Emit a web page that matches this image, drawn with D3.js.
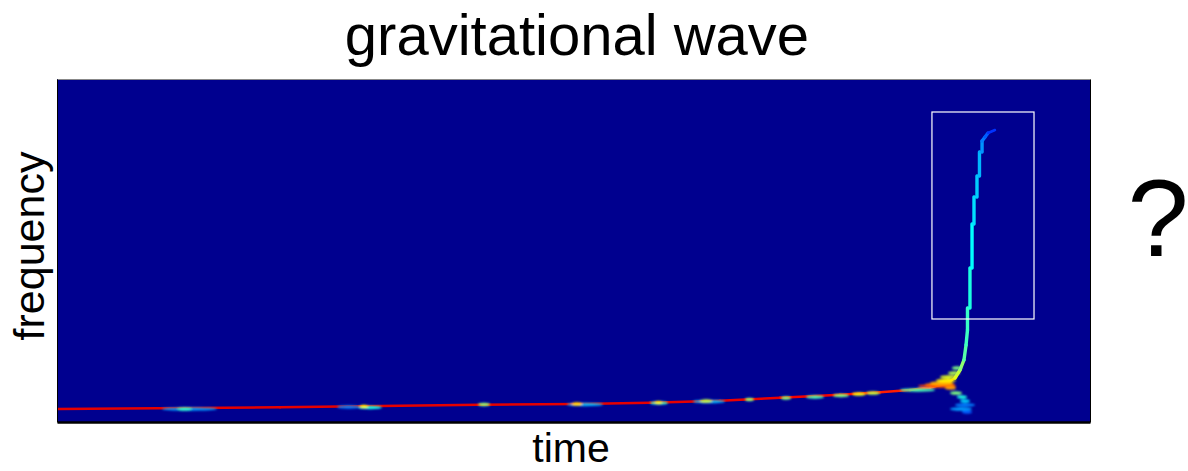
<!DOCTYPE html>
<html>
<head>
<meta charset="utf-8">
<script src="https://cdn.jsdelivr.net/npm/d3@7"></script>
<style>
  body { margin: 0; background: #fff; }
  text { font-family: "Liberation Sans", Arial, sans-serif; fill: #000; }
</style>
</head>
<body>
<div id="chart"></div>
<script>
// ridge of the chirp (time, frequency, power) - arbitrary units 0..100
var ridgeTime  = [0, 21.59, 40.95, 50.63, 57.41, 64.18, 69.99, 75.80, 79.67, 82.57, 84.51, 85.96, 86.93, 87.42, 87.80, 88.00, 88.14,
                  88.14, 88.38, 88.38, 88.58, 88.58, 88.77, 88.77, 89.06, 89.06, 89.30, 89.30, 89.55, 89.55, 89.84, 90.13, 90.80];
var ridgeFreq  = [3.79, 4.29, 5.04, 5.25, 5.63, 6.21, 7.08, 7.96, 8.66, 9.33, 10.06, 11.08, 12.83, 15.16, 18.08, 22.45, 26.82,
                  33.24, 33.24, 44.90, 44.90, 57.73, 57.73, 65.60, 65.60, 71.72, 71.72, 78.72, 78.72, 81.92, 83.09, 84.26, 85.13];
var ridgePower = [0.9, 0.9, 0.9, 0.9, 0.9, 0.9, 0.89, 0.88, 0.86, 0.84, 0.8, 0.75, 0.64, 0.55, 0.48, 0.44, 0.43,
                  0.43, 0.41, 0.40, 0.38, 0.37, 0.35, 0.34, 0.33, 0.32, 0.31, 0.30, 0.28, 0.26, 0.23, 0.2, 0.15];

// bright patches beside the ridge: time span, frequency, power
var spotT0 = [10.16, 11.62, 27.11, 29.14, 29.33, 40.76, 49.37, 49.85, 57.41, 57.89, 61.57, 62.25, 66.60, 70.09, 72.51, 75.12, 76.96, 78.32,
              81.61, 83.35, 84.03, 84.51, 85.09, 85.48, 85.96, 86.26, 86.64, 86.45, 87.12, 87.42, 86.93, 86.45, 87.61];
var spotT1 = [15.49, 13.07, 29.33, 31.46, 30.11, 41.92, 52.86, 50.82, 59.15, 58.57, 64.67, 63.41, 67.47, 71.06, 74.25, 76.67, 78.32, 79.67,
              85.00, 87.03, 86.93, 86.74, 87.03, 87.12, 87.03, 87.42, 87.61, 87.61, 88.09, 88.38, 88.87, 88.58, 88.58];
var spotF  = [3.79, 3.79, 4.37, 4.23, 4.52, 5.10, 5.10, 5.25, 5.54, 5.69, 5.98, 6.12, 6.56, 7.00, 7.29, 7.73, 8.16, 8.45,
              9.33, 10.50, 10.93, 11.37, 12.10, 13.12, 9.91, 14.29, 15.74, 8.45, 7.29, 6.12, 4.96, 3.79, 2.92];
var spotP  = [0.28, 0.42, 0.25, 0.40, 0.60, 0.50, 0.30, 0.65, 0.42, 0.60, 0.30, 0.55, 0.50, 0.50, 0.45, 0.50, 0.60, 0.55,
              0.45, 0.80, 0.76, 0.70, 0.64, 0.60, 0.72, 0.55, 0.50, 0.50, 0.40, 0.33, 0.25, 0.28, 0.22];

// highlighted region
var boxTime = [84.70, 94.58];
var boxFreq = [30.03, 90.38];

var W = 1188, H = 471;
var margin = {top: 79, right: 98, bottom: 49, left: 57},
  width = W - margin.left - margin.right,
  height = H - margin.top - margin.bottom;

var jet = d3.scaleLinear()
  .domain([0, 0.125, 0.375, 0.625, 0.875, 1])
  .range(["#000080", "#0000ff", "#00ffff", "#ffff00", "#ff0000", "#800000"])
  .clamp(true);

var svg = d3.select("#chart")
  .append("svg")
    .attr("width", W)
    .attr("height", H);

var defs = svg.append("defs");
defs.append("clipPath").attr("id", "plotclip")
  .append("rect").attr("width", width).attr("height", height);
defs.append("filter").attr("id", "soft").attr("x", "-20%").attr("y", "-50%").attr("width", "140%").attr("height", "200%")
  .append("feGaussianBlur").attr("stdDeviation", 0.6);
defs.append("filter").attr("id", "softer").attr("x", "-20%").attr("y", "-100%").attr("width", "140%").attr("height", "300%")
  .append("feGaussianBlur").attr("stdDeviation", 1.1);

var g = svg.append("g")
  .attr("transform", "translate(" + margin.left + "," + margin.top + ")");

var x = d3.scaleLinear().domain([0, 100]).range([0, width]);
var y = d3.scaleLinear().domain([0, 100]).range([height, 0]);

// background = zero power
g.append("rect")
  .attr("width", width)
  .attr("height", height)
  .style("fill", jet(0.015));

var plot = g.append("g").attr("clip-path", "url(#plotclip)");

// patches
var spots = d3.range(spotT0.length).map(function(i) {
  return {t0: spotT0[i], t1: spotT1[i], f: spotF[i], p: spotP[i]};
});

// ridge segments
var segs = d3.range(ridgeTime.length - 1).map(function(i) {
  return {
    x0: x(ridgeTime[i]), y0: y(ridgeFreq[i]),
    x1: x(ridgeTime[i + 1]), y1: y(ridgeFreq[i + 1]),
    p: (ridgePower[i] + ridgePower[i + 1]) / 2
  };
});

plot.append("g")
  .attr("filter", "url(#soft)")
  .selectAll("line")
  .data(segs)
  .enter()
  .append("line")
    .attr("x1", function(d) { return d.x0; })
    .attr("y1", function(d) { return d.y0; })
    .attr("x2", function(d) { return d.x1; })
    .attr("y2", function(d) { return d.y1; })
    .style("stroke", function(d) { return jet(d.p); })
    .style("stroke-width", function(d) { return Math.abs(d.y1 - d.y0) > Math.abs(d.x1 - d.x0) ? 3.4 : 2.5; })
    .style("stroke-linecap", "round");

plot.append("g")
  .attr("filter", "url(#softer)")
  .selectAll("ellipse")
  .data(spots)
  .enter()
  .append("ellipse")
    .attr("cx", function(d) { return (x(d.t0) + x(d.t1)) / 2; })
    .attr("cy", function(d) { return y(d.f); })
    .attr("rx", function(d) { return (x(d.t1) - x(d.t0)) / 2; })
    .attr("ry", 1.7)
    .style("fill", function(d) { return jet(d.p); });

// white box
g.append("rect")
  .attr("x", x(boxTime[0]))
  .attr("y", y(boxFreq[1]))
  .attr("width", x(boxTime[1]) - x(boxTime[0]))
  .attr("height", y(boxFreq[0]) - y(boxFreq[1]))
  .style("fill", "none")
  .style("stroke", "#fff")
  .style("stroke-width", 1.2);

// frame (axes without ticks)
g.append("g").attr("transform", "translate(0," + height + ")")
  .call(d3.axisBottom(x).tickValues([]).tickSizeOuter(0))
  .select(".domain").style("stroke-width", 2.5);
g.append("g").call(d3.axisTop(x).tickValues([]).tickSizeOuter(0))
  .select(".domain").style("stroke", "#888");
g.append("g").call(d3.axisLeft(y).tickValues([]).tickSizeOuter(0));
g.append("g").attr("transform", "translate(" + width + ",0)")
  .call(d3.axisRight(y).tickValues([]).tickSizeOuter(0));

// labels
svg.append("text")
  .attr("x", 577).attr("y", 55)
  .attr("text-anchor", "middle")
  .style("font-size", "58px")
  .text("gravitational wave");

svg.append("text")
  .attr("x", 571).attr("y", 462)
  .attr("text-anchor", "middle")
  .style("font-size", "41px")
  .text("time");

svg.append("text")
  .attr("transform", "translate(44,246) rotate(-90)")
  .attr("text-anchor", "middle")
  .style("font-size", "43px")
  .text("frequency");

svg.append("text")
  .attr("x", 1158).attr("y", 256)
  .attr("text-anchor", "middle")
  .style("font-size", "110px")
  .text("?");
</script>
</body>
</html>
